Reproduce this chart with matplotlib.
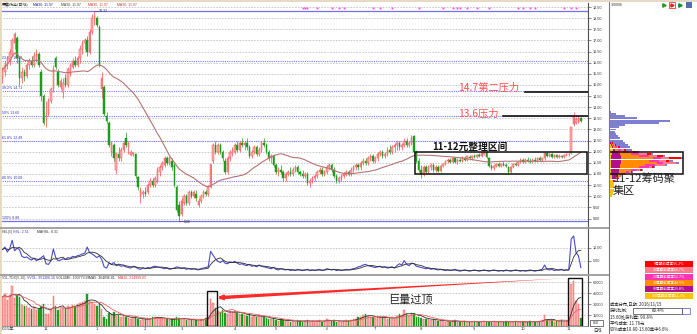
import numpy as np
import pandas as pd
import matplotlib
matplotlib.use('Agg')
import matplotlib.pyplot as plt
from matplotlib.patches import Rectangle
from matplotlib.lines import Line2D

plt.rcParams['font.family'] = ['Noto Sans CJK SC', 'DejaVu Sans']
plt.rcParams['axes.unicode_minus'] = False

W, H = 697, 334

# daily bars, 2015-11 .. 2016-11-15
opens = [
    15.3, 15.6, 15.9, 16.1, 16.4, 16.9, 17.1, 16.2, 15.3, 15.6,
    15.4, 15.9, 16.1, 15.9, 16.3, 16.4, 15.6, 14.5, 13.6, 13.7,
    14.3, 14.8, 16.2, 15.6, 14.9, 14.7, 15.3, 15.0, 15.5, 15.8,
    16.1, 15.9, 16.2, 16.6, 16.9, 17.0, 16.5, 17.4, 18.0, 18.0,
    17.6, 14.8, 14.9, 13.6, 13.3, 12.0, 12.3, 11.2, 11.9, 11.7,
    12.1, 12.6, 12.2, 11.85, 11.9, 11.9, 10.85, 10.0, 10.1, 10.2,
    10.2, 10.5, 10.7, 10.5, 10.7, 11.1, 11.3, 11.4, 11.7, 11.5,
    11.6, 11.4, 10.4, 9.6, 9.2, 9.7, 10.0, 9.7, 10.2, 10.0,
    10.1, 9.6, 9.8, 10.0, 10.2, 10.1, 10.4, 11.6, 12.3, 12.0,
    12.3, 12.0, 11.6, 11.1, 11.7, 11.9, 12.0, 12.3, 12.1, 12.4,
    12.3, 12.4, 12.2, 11.8, 12.0, 12.2, 11.9, 12.1, 12.4, 12.3,
    12.0, 11.7, 11.8, 11.4, 11.1, 11.2, 11.1, 10.8, 11.0, 11.1,
    11.0, 11.2, 11.3, 11.1, 11.0, 10.9, 11.0, 10.6, 10.7, 10.8,
    10.9, 11.1, 11.2, 11.0, 11.1, 11.3, 11.4, 11.2, 10.9, 10.7,
    10.8, 10.9, 11.0, 11.1, 11.0, 11.2, 11.3, 11.4, 11.3, 11.5,
    11.6, 11.5, 11.7, 11.8, 11.6, 11.7, 11.9, 12.0, 11.8, 11.9,
    12.1, 12.0, 12.2, 12.3, 12.4, 12.2, 12.3, 12.5, 12.3, 12.4,
    12.7, 12.0, 11.6, 11.2, 11.0, 11.3, 11.1, 11.3, 11.4, 11.2,
    11.3, 11.15, 11.35, 11.45, 11.6, 11.65, 11.55, 11.7, 11.55, 11.65,
    11.6, 11.7, 11.65, 11.75, 11.7, 11.8, 11.75, 11.85, 11.8, 11.9,
    12.0, 11.7, 11.35, 11.25, 11.35, 11.45, 11.35, 11.45, 11.4, 11.3,
    11.1, 11.3, 11.45, 11.4, 11.55, 11.65, 11.55, 11.65, 11.6, 11.55,
    11.65, 11.6, 11.7, 11.65, 11.7, 11.95, 11.8, 11.9, 11.75, 11.85,
    11.75, 11.8, 11.75, 11.85, 11.9, 11.93, 13.25, 13.3, 13.35, 13.52,
]
highs = [
    15.8, 16.1, 16.3, 16.6, 17.1, 17.4, 17.2, 16.3, 15.8, 15.7,
    16.0, 16.2, 16.3, 16.5, 16.6, 16.5, 15.7, 14.6, 14.3, 14.4,
    14.9, 15.9, 16.3, 15.7, 15.3, 15.3, 15.5, 15.8, 16.0, 16.2,
    16.3, 16.3, 16.8, 17.0, 17.1, 17.2, 17.5, 18.2, 18.32, 18.1,
    17.7, 15.6, 15.0, 13.8, 13.4, 12.5, 12.4, 12.0, 12.2, 12.2,
    12.5, 12.9, 12.5, 12.1, 12.0, 11.95, 10.9, 10.4, 10.3, 10.4,
    10.6, 10.8, 10.8, 10.9, 11.3, 11.4, 11.6, 11.8, 11.8, 11.8,
    11.7, 11.5, 10.5, 9.8, 9.9, 10.1, 10.1, 10.3, 10.3, 10.3,
    10.3, 9.9, 10.1, 10.3, 10.3, 10.5, 11.45, 12.4, 12.5, 12.4,
    12.4, 12.1, 11.7, 11.8, 12.1, 12.2, 12.4, 12.5, 12.5, 12.6,
    12.5, 12.6, 12.3, 12.1, 12.3, 12.3, 12.2, 12.5, 12.6, 12.4,
    12.1, 11.9, 11.9, 11.5, 11.3, 11.4, 11.2, 11.1, 11.2, 11.3,
    11.3, 11.4, 11.4, 11.2, 11.2, 11.1, 11.1, 10.8, 10.9, 11.0,
    11.2, 11.3, 11.3, 11.2, 11.4, 11.5, 11.5, 11.3, 11.0, 10.9,
    11.0, 11.1, 11.2, 11.2, 11.3, 11.4, 11.5, 11.5, 11.6, 11.7,
    11.7, 11.8, 11.9, 11.9, 11.8, 12.0, 12.1, 12.1, 12.0, 12.2,
    12.3, 12.3, 12.4, 12.5, 12.5, 12.4, 12.6, 12.6, 12.5, 12.75,
    12.75, 12.1, 11.7, 11.4, 11.4, 11.4, 11.4, 11.5, 11.5, 11.4,
    11.4, 11.4, 11.5, 11.65, 11.7, 11.7, 11.75, 11.75, 11.7, 11.75,
    11.8, 11.8, 11.85, 11.85, 11.85, 11.9, 11.9, 11.95, 12.0, 12.05,
    12.05, 11.75, 11.45, 11.4, 11.5, 11.55, 11.5, 11.6, 11.5, 11.35,
    11.35, 11.5, 11.55, 11.6, 11.7, 11.7, 11.7, 11.75, 11.7, 11.7,
    11.75, 11.75, 11.8, 11.75, 12.0, 12.0, 11.95, 11.95, 11.9, 11.9,
    11.9, 11.85, 11.9, 11.95, 11.95, 13.12, 13.77, 13.55, 13.6, 13.55,
]
lows = [
    15.1, 15.4, 15.7, 15.9, 16.3, 16.6, 16.0, 15.0, 15.1, 15.2,
    15.3, 15.7, 15.8, 15.8, 16.1, 15.8, 14.3, 13.2, 13.1, 13.6,
    14.2, 14.7, 15.7, 14.9, 14.8, 14.4, 14.9, 14.9, 15.4, 15.7,
    15.8, 15.8, 16.0, 16.4, 16.6, 16.3, 16.4, 17.3, 17.7, 17.6,
    15.8, 14.4, 13.6, 13.3, 12.2, 11.8, 11.6, 11.0, 11.6, 11.6,
    12.0, 12.2, 11.9, 11.8, 11.8, 10.8, 10.3, 9.7, 9.9, 10.0,
    10.1, 10.4, 10.4, 10.4, 10.6, 10.9, 11.2, 11.3, 11.4, 11.4,
    11.2, 10.4, 9.3, 8.88, 9.1, 9.6, 9.6, 9.6, 9.9, 9.9,
    9.8, 9.5, 9.7, 9.9, 10.0, 10.0, 10.35, 11.5, 11.9, 11.9,
    11.9, 11.6, 11.0, 11.0, 11.6, 11.8, 11.9, 12.0, 12.0, 12.2,
    12.1, 12.1, 11.7, 11.7, 11.9, 11.8, 11.8, 12.0, 12.2, 11.9,
    11.6, 11.5, 11.3, 11.0, 10.9, 11.0, 10.7, 10.7, 10.9, 10.9,
    10.9, 11.1, 11.0, 10.9, 10.8, 10.8, 10.5, 10.4, 10.6, 10.7,
    10.8, 11.0, 10.9, 10.9, 11.0, 11.2, 11.1, 10.8, 10.6, 10.6,
    10.7, 10.8, 10.9, 10.9, 10.9, 11.1, 11.2, 11.2, 11.2, 11.4,
    11.4, 11.4, 11.6, 11.5, 11.5, 11.6, 11.8, 11.7, 11.7, 11.8,
    11.9, 11.9, 12.0, 12.1, 12.1, 12.1, 12.2, 12.2, 12.2, 12.3,
    11.9, 11.5, 11.1, 10.8, 10.9, 11.0, 11.0, 11.2, 11.1, 11.1,
    11.1, 11.1, 11.3, 11.4, 11.5, 11.5, 11.5, 11.5, 11.45, 11.55,
    11.55, 11.6, 11.6, 11.65, 11.65, 11.7, 11.7, 11.75, 11.75, 11.85,
    11.7, 11.3, 11.2, 11.2, 11.3, 11.3, 11.3, 11.35, 11.3, 11.0,
    11.05, 11.25, 11.35, 11.35, 11.5, 11.5, 11.5, 11.55, 11.5, 11.5,
    11.55, 11.55, 11.6, 11.6, 11.65, 11.75, 11.75, 11.7, 11.7, 11.7,
    11.7, 11.7, 11.7, 11.8, 11.8, 11.9, 13.15, 13.25, 13.3, 13.35,
]
closes = [
    15.7, 15.9, 16.2, 16.5, 17.0, 17.3, 16.2, 15.3, 15.6, 15.4,
    15.9, 16.1, 15.9, 16.3, 16.4, 15.9, 14.5, 13.3, 13.6, 14.3,
    14.8, 15.7, 15.8, 15.0, 15.2, 15.1, 15.0, 15.7, 15.9, 16.1,
    15.9, 16.2, 16.6, 16.9, 17.0, 16.5, 17.4, 18.0, 18.1, 17.7,
    15.9, 15.3, 13.7, 13.4, 12.3, 12.4, 11.7, 11.9, 11.7, 12.1,
    12.4, 12.3, 12.4, 12.0, 11.95, 10.9, 10.4, 10.3, 10.2, 10.1,
    10.5, 10.7, 10.5, 10.8, 11.2, 11.3, 11.5, 11.7, 11.5, 11.7,
    11.3, 10.5, 9.4, 9.1, 9.8, 10.0, 9.7, 10.2, 10.0, 10.2,
    9.9, 9.8, 10.0, 10.2, 10.1, 10.4, 11.44, 12.3, 12.0, 12.3,
    12.0, 11.7, 11.1, 11.7, 12.0, 12.1, 12.3, 12.1, 12.4, 12.3,
    12.4, 12.2, 11.8, 12.0, 12.2, 11.9, 12.1, 12.4, 12.3, 12.0,
    11.7, 11.8, 11.4, 11.1, 11.2, 11.1, 10.8, 11.0, 11.1, 11.0,
    11.2, 11.3, 11.1, 11.0, 10.9, 11.0, 10.6, 10.7, 10.8, 10.9,
    11.1, 11.2, 11.0, 11.1, 11.3, 11.4, 11.2, 10.9, 10.7, 10.8,
    10.9, 11.0, 11.1, 11.0, 11.2, 11.3, 11.4, 11.3, 11.5, 11.6,
    11.5, 11.7, 11.8, 11.6, 11.7, 11.9, 12.0, 11.8, 11.9, 12.1,
    12.0, 12.2, 12.3, 12.4, 12.2, 12.3, 12.5, 12.3, 12.4, 12.6,
    12.0, 11.6, 11.2, 11.0, 11.3, 11.1, 11.3, 11.4, 11.2, 11.3,
    11.15, 11.35, 11.45, 11.6, 11.65, 11.55, 11.7, 11.55, 11.65, 11.6,
    11.75, 11.65, 11.8, 11.7, 11.8, 11.75, 11.85, 11.8, 11.95, 12.0,
    11.75, 11.35, 11.25, 11.35, 11.45, 11.35, 11.45, 11.4, 11.35, 11.1,
    11.3, 11.45, 11.4, 11.55, 11.65, 11.55, 11.65, 11.6, 11.55, 11.65,
    11.6, 11.7, 11.65, 11.7, 11.95, 11.8, 11.9, 11.75, 11.85, 11.75,
    11.8, 11.75, 11.85, 11.9, 11.92, 13.11, 13.6, 13.48, 13.5, 13.4,
]
# volume, thousands of lots
vol_k = [
    40, 44, 36, 42, 55, 38, 42, 40, 29, 27,
    28, 25, 23, 26, 22, 24, 27, 30, 17, 16,
    22, 41, 27, 22, 23, 25, 24, 27, 26, 29,
    28, 30, 31, 33, 34, 44, 35, 33, 30, 27,
    30, 24, 12, 10, 18, 16, 19, 14, 15, 13,
    14, 12, 11, 10, 13, 12, 9, 8, 10, 9,
    11, 10, 12, 13, 12, 11, 10, 9, 10, 8,
    9, 10, 12, 11, 9, 10, 8, 9, 8, 9,
    8, 7, 9, 10, 11, 12, 37, 31, 25, 21,
    19, 22, 18, 17, 20, 19, 21, 18, 16, 17,
    15, 14, 16, 13, 14, 12, 15, 13, 12, 11,
    10, 9, 11, 8, 7, 9, 8, 7, 8, 6,
    7, 6, 8, 7, 6, 7, 8, 6, 7, 6,
    7, 8, 6, 7, 9, 8, 7, 8, 6, 7,
    6, 7, 8, 7, 8, 9, 10, 12, 13, 15,
    16, 14, 13, 12, 11, 12, 13, 11, 12, 10,
    11, 12, 10, 14, 17, 15, 22, 16, 14, 18,
    17, 13, 12, 11, 10, 9, 10, 8, 9, 8,
    7, 8, 7, 6, 7, 6, 7, 8, 6, 5,
    6, 7, 6, 5, 6, 7, 6, 5, 6, 7,
    6, 5, 6, 7, 6, 5, 6, 5, 7, 6,
    5, 6, 7, 6, 5, 6, 5, 6, 7, 6,
    5, 6, 7, 8, 15, 8, 7, 8, 6, 7,
    7, 8, 6, 7, 7, 57, 62, 35, 30, 10.8,
]
float_k = 4.303  # thousand lots per 1% turnover

month_idx = [0, 18, 39, 59, 74, 96, 113, 134, 154, 173, 195, 215, 234]
month_lbl = ['2015年', '12', '1', '2', '3', '4', '5', '6', '7', '8', '9', '10', '11']

fib_high, fib_low = 18.32, 8.88
fib_pct = [23.6, 38.2, 50.0, 61.8, 80.9, 100.0]

mine_idx = [124, 125, 126, 130, 136, 139, 141, 153, 156, 161, 172, 182, 186,
            188, 189, 192, 196, 201, 213, 215, 218, 220, 232, 235, 237]

# chip distribution, price levels 10.0 .. 13.8
chip_lv = np.round(np.arange(10.0, 13.85, 0.1), 1)
chip_all = [3, 4, 4, 5, 5, 5, 5, 7, 10, 12, 16, 24, 34, 46, 58, 70, 64, 74, 56, 44,
            30, 23, 21, 19, 16, 14, 11, 9, 7, 6, 7, 10, 16, 50, 61, 28, 16, 7, 2]
chip_5 = [3, 4, 4, 5, 5, 5, 5, 7, 10, 12, 16, 23, 33, 45, 56, 67, 60, 72, 54, 42,
          27, 17, 11, 7, 4] + [0] * 14
chip_10 = [3, 4, 4, 5, 5, 5, 5, 7, 10, 12, 15, 22, 31, 43, 56, 67, 57, 60, 48, 38,
           24, 15, 9, 6, 3] + [0] * 14
chip_20 = [3, 4, 4, 5, 5, 5, 5, 7, 10, 11, 14, 20, 28, 40, 46, 54, 50, 52, 40, 30,
           20, 12, 8, 5, 3] + [0] * 14
chip_30 = [3, 4, 4, 5, 5, 5, 5, 7, 9, 11, 13, 17, 22, 30, 36, 48, 40, 44, 30, 22,
           14, 9, 6, 4, 2] + [0] * 14
chip_60 = [3, 4, 4, 5, 5, 5, 5, 6, 7, 8, 9, 10, 10, 11, 11, 12, 12, 12, 12, 11,
           9, 6, 4, 3, 2] + [0] * 14
chip_100 = [3, 4, 4, 5, 5, 5, 5, 4, 3, 3, 2, 2, 2, 2, 2, 2, 2, 2, 2, 3,
            3, 4, 3, 2, 1] + [0] * 14

layer_names = ['5周期前成本65.2%', '10周期前成本60.7%', '20周期前成本51.7%',
               '30周期前成本44.5%', '60周期前成本29.8%', '100周期前成本11.3%']
layer_colors = ['#ff0000', '#ff7a8a', '#ff33b4', '#ff8c00', '#b0108c', '#ffc000']

assert len(opens) == len(highs) == len(lows) == len(closes) == len(vol_k)

SMALL = 'Liberation Sans'


def px_axes(fig, x0, y0, x1, y1):
    return fig.add_axes([x0 / W, 1 - y1 / H, (x1 - x0) / W, (y1 - y0) / H])


def fx(x):
    return x / W


def fy(y):
    return 1 - y / H


def ftext(fig, x, y, s, **kw):
    kw.setdefault('fontsize', 2.5)
    kw.setdefault('va', 'center')
    fig.text(fx(x), fy(y), s, **kw)


o, h, l, c = (np.array(v, dtype=float) for v in (opens, highs, lows, closes))
vol = np.array(vol_k, dtype=float)
idx = np.arange(len(c))
ma30 = pd.Series(c).rolling(30, min_periods=1).mean()
hsl = vol / float_k
mahsl = pd.Series(hsl).rolling(5, min_periods=1).mean()
vma5 = pd.Series(vol).rolling(5, min_periods=1).mean()
vma10 = pd.Series(vol).rolling(10, min_periods=1).mean()

up = c >= o
RED_F, RED_E, GREEN = '#f9b2b2', '#ff4848', '#1f9a1f'
face = np.where(up, RED_F, GREEN)
edge = np.where(up, RED_E, GREEN)

fig = plt.figure(figsize=(W / 100, H / 100), dpi=100)
XL = (-1.033, 241.94)
GRID = dict(color='#c4c4c4', lw=0.6, ls=(0, (2, 1.5)), zorder=0)
TICKS = dict(labelsize=2.7, length=1.8, width=0.4, pad=1.5, colors='#333333')

# ---------------- main price panel ----------------
ax = px_axes(fig, 0, 3, 588, 227)
ax.set_xlim(*XL)
ax.set_ylim(8.618, 18.685)
for p in np.arange(9.0, 18.51, 0.5):
    ax.axhline(p, **GRID)

rng = fib_high - fib_low
ax.axhline(fib_high, color='#7272f0', lw=0.9, zorder=1)
for pct in fib_pct:
    lv = fib_high - rng * pct / 100
    if pct == 100.0:
        ax.axhline(lv, color='#7272f0', lw=0.9, zorder=1)
    else:
        ax.axhline(lv, color='#7a7aff', lw=0.8, ls=(0, (1, 1)), zorder=1)
    ax.text(0.0, lv + 0.05, f'{pct:g}% {lv:.2f}', fontsize=2.6, color='#3434c0',
            ha='left', va='bottom', family=SMALL)

ax.vlines(idx, l, h, colors=edge, lw=0.5, zorder=3)
ax.bar(idx, np.maximum(np.abs(c - o), 0.02), bottom=np.minimum(o, c), width=0.62,
       color=face, edgecolor=edge, linewidth=0.35, zorder=4)
ax.plot(idx, ma30, color='#b47474', lw=0.8, zorder=5)

ax.plot(mine_idx, [18.46] * len(mine_idx), ls='none', marker='s', ms=1.3,
        color='#ff44ff', mec='none', zorder=6)

hi_i = int(np.argmax(h))
lo_i = int(np.argmin(l))
ax.plot([hi_i, hi_i + 1.4], [h[hi_i], h[hi_i]], color='#404040', lw=0.4)
ax.text(hi_i + 1.6, h[hi_i], f'{h[hi_i]:.2f}', fontsize=2.6, va='center',
        color='#303030', family=SMALL)
ax.plot([lo_i, lo_i + 1.6], [l[lo_i], l[lo_i]], color='#404040', lw=0.4)
ax.text(lo_i + 1.8, l[lo_i] - 0.03, f'{l[lo_i]:.2f}', fontsize=2.6, va='center',
        color='#303030', family=SMALL)

# resistance lines and notes
ax.plot([215.9, XL[1]], [14.7, 14.7], color='#111111', lw=1.2, zorder=7)
ax.plot([206.7, XL[1]], [13.6, 13.6], color='#111111', lw=1.2, zorder=7)
ax.text(188.2, 14.88, '14.7第二压力', fontsize=7.4, color='#ff5050', va='center', zorder=8)
ax.text(188.2, 13.70, '13.6压力', fontsize=7.4, color='#ff5050', va='center', zorder=8)
ax.add_patch(Rectangle((170.4, 11.0), XL[1] - 0.6 - 170.4, 1.0, fill=False,
                       ec='#111111', lw=1.1, zorder=7))
ax.text(177.5, 12.24, '11-12元整理区间', fontsize=7.0, fontweight='bold',
        color='#111111', va='center', zorder=8)

ax.yaxis.tick_right()
ax.set_yticks(np.arange(9.0, 18.51, 0.5))
ax.set_yticklabels([f'{p:.2f}' for p in np.arange(9.0, 18.51, 0.5)], family=SMALL)
ax.tick_params(axis='y', **TICKS)
ax.set_xticks([])
for s in ['top', 'left', 'bottom']:
    ax.spines[s].set_visible(False)
ax.spines['right'].set_color('#505050')
ax.spines['right'].set_linewidth(0.8)

# ---------------- turnover panel ----------------
ax2 = px_axes(fig, 0, 228, 588, 274)
ax2.set_xlim(*XL)
ax2.set_ylim(0.1, 17.4)
for v in (5, 10):
    ax2.axhline(v, **GRID)
ax2.plot(idx, hsl, color='#4a4ac8', lw=0.8)
ax2.plot(idx, mahsl, color='#303030', lw=0.6)
ax2.yaxis.tick_right()
ax2.set_yticks([5, 10])
ax2.set_yticklabels(['5.00', '10.00'], family=SMALL)
ax2.tick_params(axis='y', **TICKS)
ax2.set_xticks([])
for s in ['top', 'left', 'bottom']:
    ax2.spines[s].set_visible(False)
ax2.spines['right'].set_color('#505050')
ax2.spines['right'].set_linewidth(0.8)

# ---------------- volume panel ----------------
ax3 = px_axes(fig, 0, 275, 588, 326)
ax3.set_xlim(*XL)
ax3.set_ylim(0, 70.0)
for v in (15, 30, 45, 60):
    ax3.axhline(v, **GRID)
ax3.bar(idx, vol, width=0.62, color=face, edgecolor=edge, linewidth=0.3, zorder=3)
ax3.plot(idx, vma5, color='#303030', lw=0.6, zorder=4)
ax3.plot(idx, vma10, color='#f06464', lw=0.6, zorder=4)
ax3.add_patch(Rectangle((84.5, 0.3), 4.1, 48.4, fill=False, ec='#111111', lw=1.0, zorder=6))
ax3.add_patch(Rectangle((233.8, 0.3), 5.8, 65.0, fill=False, ec='#111111', lw=1.0, zorder=6))
ax3.annotate('', xy=(233.0, 65.6), xytext=(89.6, 38.9),
             arrowprops=dict(arrowstyle='wedge,tail_width=0.25,shrink_factor=0.5',
                             color='#ff2a2a', lw=0, shrinkA=0, shrinkB=0), zorder=7)
ax3.annotate('', xy=(89.0, 38.8), xytext=(96.0, 40.1),
             arrowprops=dict(arrowstyle='-|>', color='#ff2a2a', lw=1.5,
                             mutation_scale=7, shrinkA=0, shrinkB=0), zorder=7)
ax3.text(168.4, 35.6, '巨量过顶', fontsize=8, color='#222222', ha='center', va='center')
ax3.yaxis.tick_right()
ax3.set_yticks([15, 30, 45, 60])
ax3.set_yticklabels(['15000', '30000', '45000', '60000'], family=SMALL)
ax3.tick_params(axis='y', **TICKS)
ax3.set_xticks([])
for s in ['top', 'left']:
    ax3.spines[s].set_visible(False)
ax3.spines['right'].set_color('#505050')
ax3.spines['bottom'].set_color('#808080')
ax3.spines['right'].set_linewidth(0.8)
ax3.spines['bottom'].set_linewidth(0.6)
for k, lbl in zip(month_idx, month_lbl):
    ax3.text(k if k else -0.8, -4.5, lbl, fontsize=3.0, color='#333333',
             ha='left' if k == 0 else 'center', va='center', clip_on=False)

# ---------------- chip distribution ----------------
ax4 = px_axes(fig, 609, 3, 697, 227)
ax4.set_xlim(0, 88)
ax4.set_ylim(8.618, 18.685)
ax4.barh(chip_lv, chip_all, height=0.088, color='#7f7fd2', lw=0)
for widths, col in zip([chip_5, chip_10, chip_20, chip_30, chip_60, chip_100],
                       layer_colors):
    ax4.barh(chip_lv, widths, height=0.088, color=col, lw=0)
ax4.add_patch(Rectangle((0.3, 11.0), 73.7, 1.0, fill=False, ec='#111111', lw=1.1))
ax4.text(4.0, 10.80, '11-12筹码聚', fontsize=8, color='#222222', va='center')
ax4.text(4.0, 10.22, '集区', fontsize=8, color='#222222', va='center')
ax4.axis('off')

# ---------------- frame pieces ----------------
fig.add_artist(Rectangle((0, fy(2.2)), 1, 2.2 / H, color='#e6dbc2', lw=0))
fig.add_artist(Rectangle((0, 0), 1.6 / W, 1, color='#e6dbc2', lw=0))
fig.add_artist(Line2D([0, fx(608.5)], [fy(227.5)] * 2, color='#9c9c9c', lw=1.3))
fig.add_artist(Line2D([0, fx(608.5)], [fy(274.5)] * 2, color='#9c9c9c', lw=1.3))
fig.add_artist(Line2D([fx(608.5)] * 2, [0, fy(2.2)], color='#7a7a7a', lw=0.8))

# headers (values as printed on the chart)
ftext(fig, 2, 4.8, '莱美药业(日线)', color='#202020', fontsize=2.9)
ma_cols = ['#1a1a9a', '#404040', '#e03030', '#a04848']
for x0, col in zip([33, 61, 88, 117], ma_cols):
    ftext(fig, x0, 4.8, 'MA30: 11.97', color=col, family=SMALL)
ftext(fig, 2, 232, 'HSL(5)', color='#404040', family=SMALL)
ftext(fig, 13, 232, 'HSL: 2.51', color='#3434c0', family=SMALL)
ftext(fig, 37, 232, 'MAHSL: 8.31', color='#303030', family=SMALL)
ftext(fig, 2, 278, 'VOL-TDX(5,10)', color='#404040', family=SMALL)
ftext(fig, 27, 278, 'VVOL: 351266.18', color='#3434c0', family=SMALL)
ftext(fig, 56, 278, 'VOLUME: 100773.68', color='#303030', family=SMALL)
ftext(fig, 89, 278, 'MA5: 364096.81', color='#303030', family=SMALL)
ftext(fig, 118, 278, 'MA10: 214999.03', color='#e03030', family=SMALL)

# chip panel header and icons
ftext(fig, 611, 5, '300006', color='#303030', family=SMALL)
fig.add_artist(Line2D([fx(664)], [fy(5)], marker='>', ms=2.5, color='#2a9a2a', ls='none'))
fig.add_artist(Rectangle((fx(669), fy(8)), 6 / W, 6 / H, fill=False, ec='#ff3030', lw=0.6))
fig.add_artist(Line2D([fx(672)], [fy(5)], marker='>', ms=2.2, color='#e02020', ls='none'))
fig.add_artist(Line2D([fx(680)], [fy(5)], marker='>', ms=2.5, color='#1a8a3a', ls='none'))
fig.add_artist(Rectangle((fx(686), fy(8)), 6 / W, 6 / H, color='#5070b0', lw=0))

# chip legend + info text
for k, (name, col) in enumerate(zip(layer_names, layer_colors)):
    y0 = 260.8 + k * 6.35
    fig.add_artist(Rectangle((fx(645), fy(y0 + 6.2)), 48 / W, 6.2 / H, color=col, lw=0))
    ftext(fig, 669, y0 + 3.1, name, color='white', fontsize=2.6, ha='center')
ftext(fig, 610, 304, '成本分布,日期: 2016/11/15', color='#202020', fontsize=3.1)
ftext(fig, 610, 310.7, '获利比例:', color='#202020', fontsize=3.1)
fig.add_artist(Rectangle((fx(633), fy(313.5)), 49 / W, 5.5 / H, fill=False, ec='#404040', lw=0.5))
fig.add_artist(Rectangle((fx(682), fy(313.5)), 8 / W, 5.5 / H, fill=False, ec='#5050c0', lw=0.5))
ftext(fig, 658, 310.7, '80.4%', color='#202020', fontsize=3.1, ha='center')
ftext(fig, 610, 316.9, '15.60处获利盘: 99.8%', color='#202020', fontsize=3.1)
ftext(fig, 610, 323.2, '平均成本: 11.76元', color='#202020', fontsize=3.1)
ftext(fig, 610, 329.6, '90%成本10.80-13.60集中6.6%', color='#202020', fontsize=3.1)
fig.add_artist(Rectangle((fx(589.5), fy(326)), 13 / W, 6 / H, fill=False, ec='#404040', lw=0.5))
ftext(fig, 596, 323, '010', color='#202020', fontsize=2.6, ha='center', family=SMALL)
ftext(fig, 598, 330, '日线', color='#202020', fontsize=3.1, ha='center')

fig.savefig('out.png', dpi=100)
